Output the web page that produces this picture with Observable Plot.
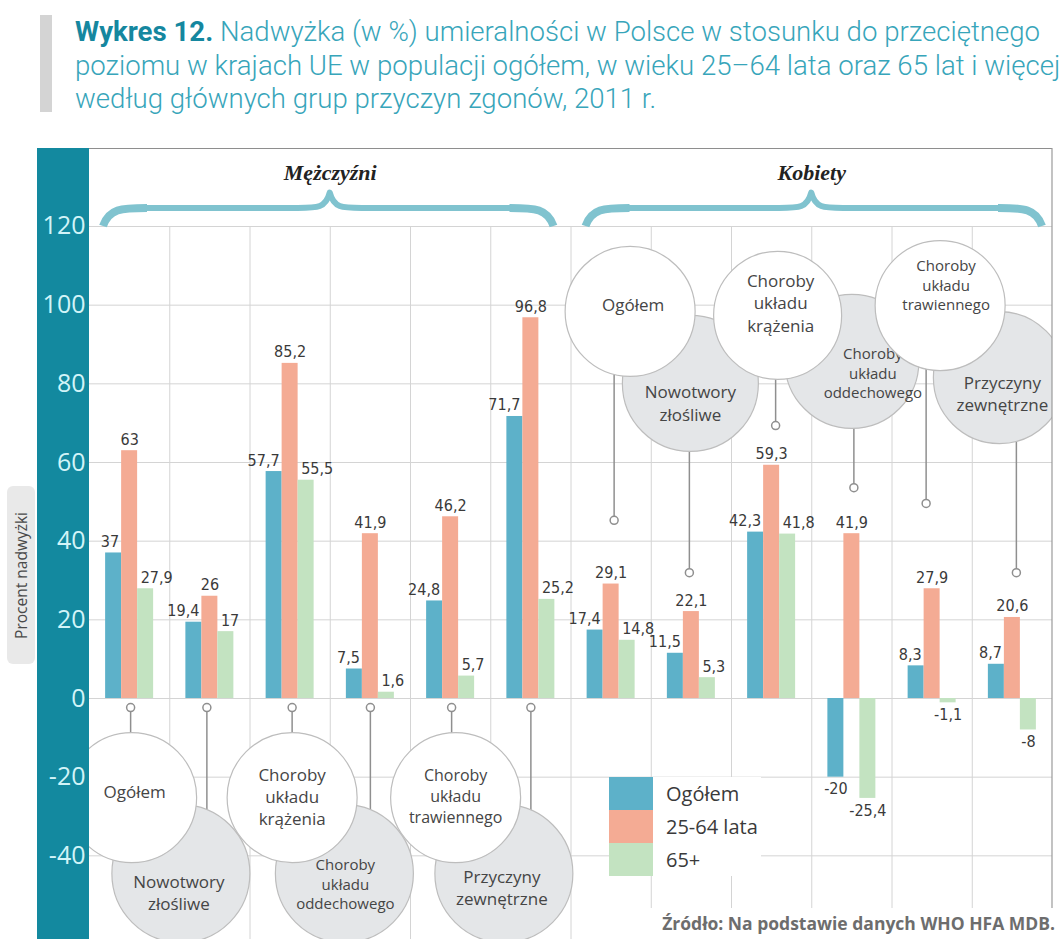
<!DOCTYPE html>
<html>
<head>
<meta charset="utf-8">
<script src="https://cdn.jsdelivr.net/npm/d3@7"></script>
<script src="https://cdn.jsdelivr.net/npm/@observablehq/plot@0.6"></script>
<style>
  body { margin: 0; background: #fff; font-family: "Open Sans", sans-serif; }
  #page { position: relative; width: 1060px; height: 939px; overflow: hidden; background: #fff; }
  #titlebar { position: absolute; left: 40px; top: 15px; width: 12px; height: 97px; background: #d4d4d4; }
  #title { position: absolute; left: 75px; top: 15px; font-family: Roboto, "Open Sans", sans-serif; font-weight: 300; font-size: 28px; line-height: 33.5px; color: #37a5ba; white-space: nowrap; transform-origin: 0 0; }
  #title b { color: #15879f; font-weight: 700; }
  #title div { display: block; height: 33.5px; }
  #chart { position: absolute; left: 0; top: 140px; }
  #ytitle { position: absolute; left: 7px; top: 486px; width: 28px; height: 178px; background: #e9e9e9; border-radius: 6px;
            display: flex; align-items: center; justify-content: center; }
  #ytitle span { writing-mode: vertical-rl; transform: rotate(180deg); font-size: 15.5px; color: #4a4a4a; white-space: nowrap; }
  #legend { position: absolute; left: 609px; top: 777px; width: 152px; height: 99px; background: #fff; }
  #legend .row { position: relative; height: 33px; }
  #legend .sw { position: absolute; left: 0; top: 0; width: 44px; height: 33px; }
  #legend .lb { position: absolute; left: 57px; top: 0; line-height: 33px; font-size: 20px; color: #3a3a3a; white-space: nowrap; }
  #source { position: absolute; left: 588px; top: 908px; width: 467px; height: 31px; background: #fff; text-align: right;
            font-weight: 700; font-size: 17.5px; line-height: 31px; color: #6d6d6d; white-space: nowrap; }
</style>
</head>
<body>
<div id="page">
  <div id="titlebar"></div>
  <div id="title">
    <div><span id="t1"><b>Wykres 12.</b> Nadwyżka (w %) umieralności w Polsce w stosunku do przeciętnego</span></div>
    <div>poziomu w krajach UE w populacji ogółem, w wieku 25–64 lata oraz 65 lat i więcej</div>
    <div>według głównych grup przyczyn zgonów, 2011 r.</div>
  </div>
  <div id="chart"></div>
  <div id="ytitle"><span>Procent nadwyżki</span></div>
  <div id="legend"></div>
  <div id="source">Źródło: Na podstawie danych WHO HFA MDB.</div>
</div>
<script>
// ---------- data ----------
const groups = ["Mężczyźni", "Kobiety"];
const causes = ["Ogółem", "Nowotwory złośliwe", "Choroby układu krążenia", "Choroby układu oddechowego", "Choroby układu trawiennego", "Przyczyny zewnętrzne"];
const causeLabels = ["Ogółem", "Nowotwory\nzłośliwe", "Choroby\nukładu\nkrążenia", "Choroby\nukładu\noddechowego", "Choroby\nukładu\ntrawiennego", "Przyczyny\nzewnętrzne"];
const series = ["Ogółem", "25-64 lata", "65+"];
const menTotal = [37, 19.4, 57.7, 7.5, 24.8, 71.7];
const men2564 = [63, 26, 85.2, 41.9, 46.2, 96.8];
const men65 = [27.9, 17, 55.5, 1.6, 5.7, 25.2];
const womenTotal = [17.4, 11.5, 42.3, -20, 8.3, 8.7];
const women2564 = [29.1, 22.1, 59.3, 41.9, 27.9, 20.6];
const women65 = [14.8, 5.3, 41.8, -25.4, -1.1, -8];
const yTicks = [-40, -20, 0, 20, 40, 60, 80, 100, 120];

// ---------- styles ----------
const colors = ["#5db1c9", "#f4ab94", "#c3e3c1"];
const W = 1060, H = 799, mL = 89, mR = 8, mT = 8, mB = 0;
const yMin = -61.27, yMax = 139.83;

// ---------- build table ----------
const keys = [];
groups.forEach(g => causes.forEach(c => keys.push(g + "|" + c)));
const seriesValues = [[...menTotal, ...womenTotal], [...men2564, ...women2564], [...men65, ...women65]];
const rows = [];
series.forEach((s, si) => keys.forEach((k, i) => rows.push({key: k, si, series: s, value: seriesValues[si][i]})));

const bw = (W - mL - mR) / keys.length;
const barW = 16;
const off = (bw - 3 * barW) / 2;
const fmt = v => String(v).replace(".", ",");
const labelFont = "'Liberation Sans Narrow','DejaVu Sans Condensed','Roboto Condensed',Roboto,sans-serif";

const barMarks = series.map((s, si) => Plot.barY(rows.filter(d => d.si === si), {
  x: "key", y: "value", fill: colors[si],
  insetLeft: off + si * barW, insetRight: bw - off - (si + 1) * barW
}));

const labelCommon = {x: "key", y: "value", text: d => fmt(d.value), fontSize: 16, fontFamily: labelFont, fill: "#3a3a3a"};
const labelMarks = [
  Plot.text(rows.filter(d => d.si === 0 && d.value >= 0), {...labelCommon, dx: -10.5, dy: -6, textAnchor: "end", lineAnchor: "bottom"}),
  Plot.text(rows.filter(d => d.si === 1 && d.value >= 0), {...labelCommon, dx: 0, dy: -6, textAnchor: "middle", lineAnchor: "bottom"}),
  Plot.text(rows.filter(d => d.si === 2 && d.value >= 0), {...labelCommon, dx: 11, dy: -6, textAnchor: "start", lineAnchor: "bottom"}),
  Plot.text(rows.filter(d => d.si === 0 && d.value < 0), {...labelCommon, dx: -barW, dy: 5, lineAnchor: "top"}),
  Plot.text(rows.filter(d => d.si === 2 && d.value < 0), {...labelCommon, dx: barW, dy: 6, lineAnchor: "top"})
];

// ---------- bubble annotations (layout) ----------
const bubbles = [
  {i: 0, white: true,  dx: 2,   y: -25.2, r: 65, pinDx: 1,  pin: -2.3, tdx: 3,  tdy: -7,  fs: 17},
  {i: 1, white: false, dx: -29, y: -44.5, r: 69, pinDx: -3, pin: -2.3, tdx: -2, tdy: 18,  fs: 17},
  {i: 2, white: true,  dx: 2,   y: -25.2, r: 65, pinDx: 2,  pin: -2.3, tdx: 0,  tdy: -2,  fs: 17},
  {i: 3, white: false, dx: -26, y: -44.5, r: 69, pinDx: 0,  pin: -2.3, tdx: 1,  tdy: 10,  fs: 15},
  {i: 4, white: true,  dx: 5,   y: -25.2, r: 65, pinDx: 1,  pin: -2.3, tdx: 0,  tdy: -2,  fs: 16},
  {i: 5, white: false, dx: -27, y: -44.5, r: 69, pinDx: 0,  pin: -2.3, tdx: -2, tdy: 13,  fs: 17},
  {i: 6, white: true,  dx: 19,  y: 98.4,  r: 65, pinDx: 3,  pin: 45.3, tdx: 3,  tdy: -8,  fs: 17},
  {i: 7, white: false, dx: -1,  y: 80.1,  r: 68, pinDx: -2, pin: 32.0, tdx: 0,  tdy: 19,  fs: 17},
  {i: 8, white: true,  dx: 6,   y: 97.4,  r: 64, pinDx: 4,  pin: 69.4, tdx: 3,  tdy: -13, fs: 17},
  {i: 9, white: false, dx: 0,   y: 85.7,  r: 67, pinDx: 2,  pin: 53.6, tdx: 21, tdy: 11,  fs: 15},
  {i: 10, white: true, dx: 8,   y: 99.9,  r: 65, pinDx: -6, pin: 49.6, tdx: 6,  tdy: -21, fs: 15},
  {i: 11, white: false, dx: -13, y: 81.6, r: 66, pinDx: 4,  pin: 32.0, tdx: 3,  tdy: 15,  fs: 17}
];
const bx = d => keys[d.i];
const connectorMarks = bubbles.map(b => Plot.ruleX([b], {x: bx, y1: "pin", y2: "y", dx: b.pinDx, stroke: "#8f8f8f", strokeWidth: 1.5}));
const pinMarks = bubbles.map(b => Plot.dot([b], {x: bx, y: "pin", dx: b.pinDx, r: 4, fill: "#fff", stroke: "#8f8f8f", strokeWidth: 1.5}));
const bubbleMarks = [];
[false, true].forEach(white => {
  bubbles.filter(b => b.white === white).forEach(b => {
    bubbleMarks.push(Plot.dot([b], {x: bx, y: "y", dx: b.dx, r: b.r, fill: white ? "#ffffff" : "#e4e6e8", stroke: "#bdbdbd", strokeWidth: 1.2, clip: true}));
    bubbleMarks.push(Plot.text([b], {x: bx, y: "y", dx: b.dx + b.tdx, dy: b.tdy, text: d => causeLabels[d.i % 6], fontSize: b.fs, lineHeight: 1.3, fill: "#454545", fontFamily: "Open Sans"}));
  });
});

// ---------- braces (custom render using plot scales) ----------
function braceMark(index, scales, values, dims) {
  try {
    const g = d3.create("svg:g").attr("fill", "none").attr("stroke", "#80c3cf");
    const step = (dims.width - dims.marginLeft - dims.marginRight) / keys.length;
    const yb = scales.y(120), ym = scales.y(124.6), yt = scales.y(128.5);
    [[0, 5, 14, 17], [6, 11, 15, 10]].forEach(([a, b, insL, insR]) => {
      const xa = scales.x(keys[a]), xbEnd = scales.x(keys[b]) + step;
      const x0 = xa + insL, x1 = xbEnd - insR, xm = (xa + xbEnd) / 2;
      const mid = `M${x0 + 40},${ym} L${xm - 32},${ym} C${xm - 12},${ym} ${xm - 4},${ym} ${xm},${yt} C${xm + 4},${ym} ${xm + 12},${ym} ${xm + 32},${ym} L${x1 - 40},${ym}`;
      g.append("path").attr("d", mid).attr("stroke-width", 6).attr("stroke-linejoin", "round");
      const ends = `M${x0},${yb} C${x0 + 6},${ym + 1} ${x0 + 18},${ym} ${x0 + 44},${ym} M${x1},${yb} C${x1 - 6},${ym + 1} ${x1 - 18},${ym} ${x1 - 44},${ym}`;
      g.append("path").attr("d", ends).attr("stroke-width", 8);
    });
    return g.node();
  } catch (e) { return null; }
}
function tealMark(index, scales, values, dims) {
  return d3.create("svg:rect").attr("x", 37).attr("y", dims.marginTop).attr("width", dims.marginLeft - 37)
    .attr("height", dims.height - dims.marginTop).attr("fill", "#13899f").node();
}

const chart = Plot.plot({
  width: W, height: H, marginLeft: mL, marginRight: mR, marginTop: mT, marginBottom: mB,
  x: {type: "band", domain: keys, padding: 0, round: false, axis: null},
  y: {domain: [yMin, yMax], axis: null},
  style: {background: "transparent", overflow: "visible"},
  marks: [
    Plot.ruleY(yTicks, {stroke: "#d4d4d4", strokeWidth: 1}),
    Plot.ruleX(keys.slice(1), {x: d => d, dx: -bw / 2, y1: 120, y2: yMin, stroke: "#d4d4d4", strokeWidth: 1}),
    ...barMarks,
    ...labelMarks,
    ...connectorMarks,
    ...pinMarks,
    ...bubbleMarks,
    braceMark,
    Plot.text([groups[0]], {x: () => keys[3], y: () => 133.5, dx: -bw / 2, text: d => d, fontFamily: "'Liberation Serif',serif", fontStyle: "italic", fontWeight: "bold", fontSize: 22, fill: "#222"}),
    Plot.text([groups[1]], {x: () => keys[9], y: () => 133.5, dx: -bw / 2, text: d => d, fontFamily: "'Liberation Serif',serif", fontStyle: "italic", fontWeight: "bold", fontSize: 22, fill: "#222"}),
    Plot.ruleY([yMax], {stroke: "#8e8e8e", strokeWidth: 1.2}),
    Plot.ruleX([keys[keys.length - 1]], {x: d => d, dx: bw / 2 - 0.5, stroke: "#9a9a9a", strokeWidth: 1.2}),
    tealMark,
    Plot.text(yTicks, {y: d => d, text: d => String(d), frameAnchor: "left", dx: -4, textAnchor: "end", fill: "#d2f4f8", fontSize: 25, fontFamily: "Open Sans"})
  ]
});
document.getElementById("chart").appendChild(chart);

// legend
const legend = document.getElementById("legend");
series.forEach((s, si) => {
  const row = document.createElement("div");
  row.className = "row";
  row.innerHTML = `<span class="sw" style="background:${colors[si]}"></span><span class="lb">${s}</span>`;
  legend.appendChild(row);
});

// condense title to reference width (line 1 spans ~965px)
const t1 = document.getElementById("t1");
const w1 = t1.getBoundingClientRect().width;
document.getElementById("title").style.transform = `scaleX(${965 / w1})`;
</script>
</body>
</html>
